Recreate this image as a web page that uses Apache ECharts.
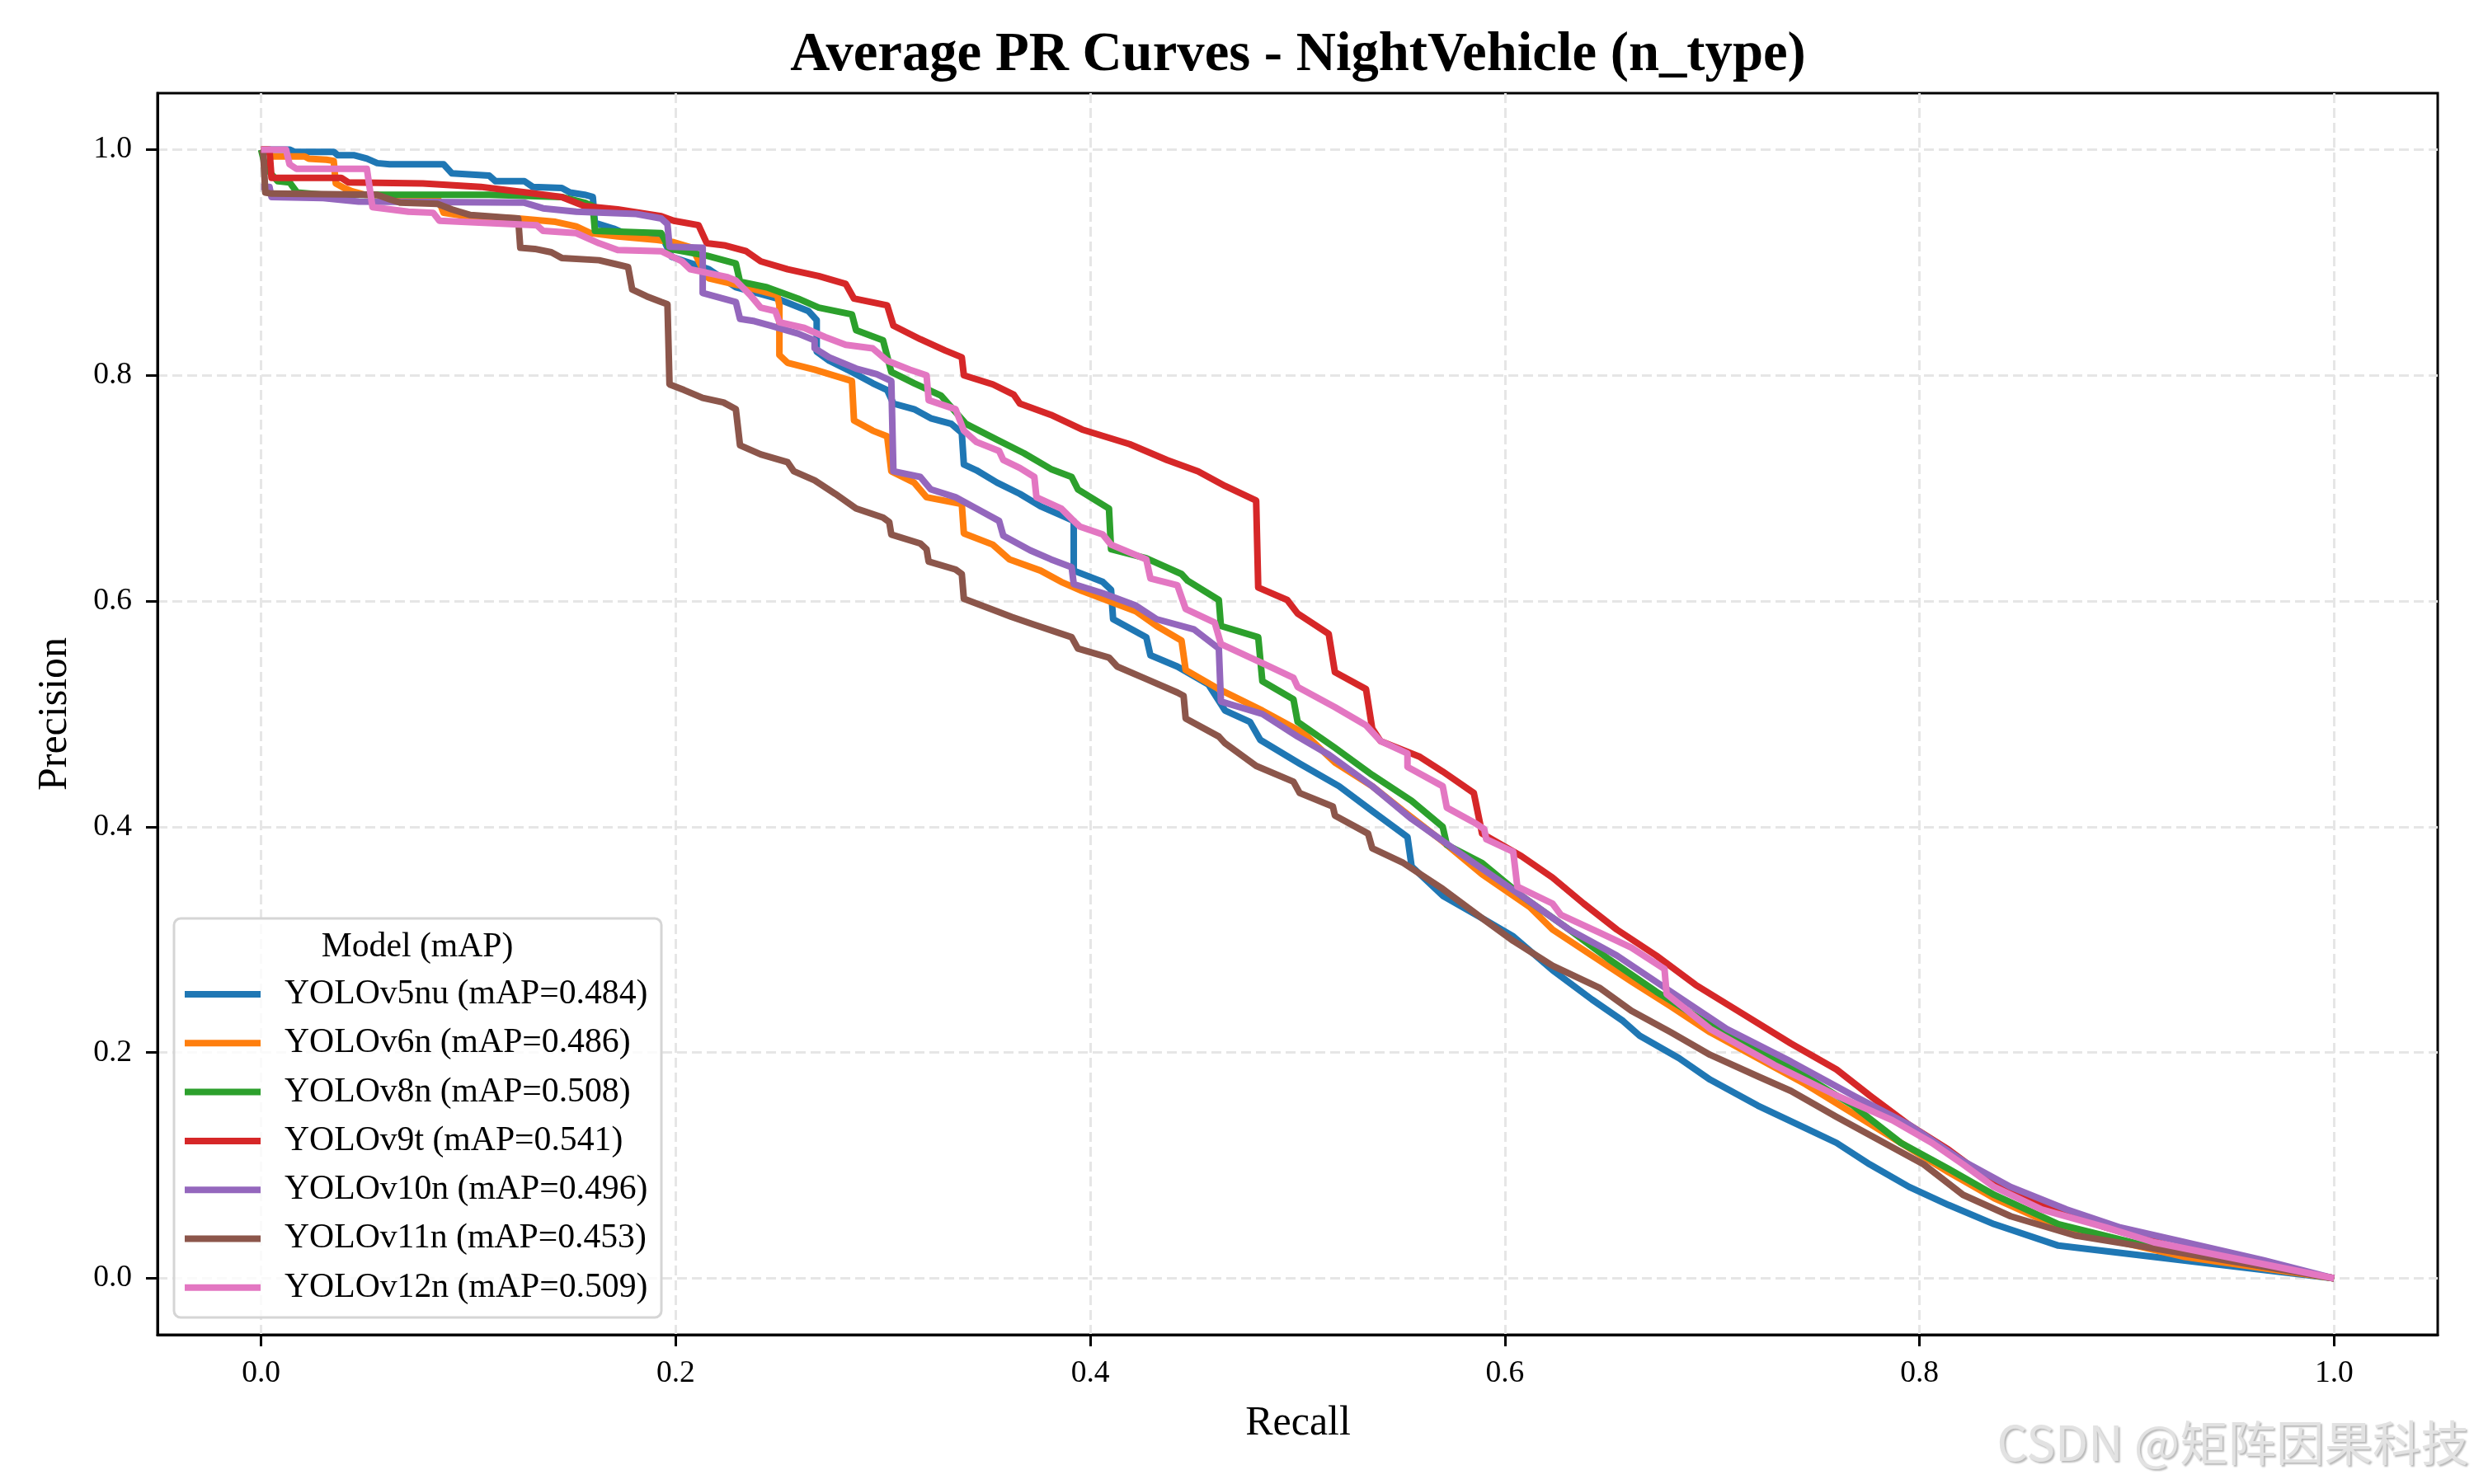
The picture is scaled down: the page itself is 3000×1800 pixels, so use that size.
<!DOCTYPE html>
<html>
<head>
<meta charset="utf-8">
<title>Average PR Curves - NightVehicle (n_type)</title>
<script src="https://cdn.jsdelivr.net/npm/echarts@6/dist/echarts.min.js"></script>
<style>
html, body { margin: 0; padding: 0; background: #fff; }
#main { width: 3000px; height: 1800px; }
</style>
</head>
<body>
<div id="main"></div>
<script>
var ticks = [0.0, 0.2, 0.4, 0.6, 0.8, 1.0];
var models = ['YOLOv5nu', 'YOLOv6n', 'YOLOv8n', 'YOLOv9t', 'YOLOv10n', 'YOLOv11n', 'YOLOv12n'];
var mapValues = [0.484, 0.486, 0.508, 0.541, 0.496, 0.453, 0.509];
var colors = ['#1f77b4', '#ff7f0e', '#2ca02c', '#d62728', '#9467bd', '#8c564b', '#e377c2'];

// [recall, precision]
var yolov5nu = [[0,1.0],[0.0137,1.0],[0.016,0.998],[0.035,0.998],[0.037,0.995],[0.045,0.995],[0.051,0.992],[0.056,0.988],[0.062,0.987],[0.088,0.987],[0.092,0.979],[0.110,0.977],[0.113,0.972],[0.127,0.972],[0.131,0.967],[0.145,0.966],[0.149,0.962],[0.156,0.960],[0.160,0.958],[0.161,0.935],[0.170,0.930],[0.175,0.926],[0.193,0.925],[0.198,0.905],[0.216,0.894],[0.229,0.878],[0.249,0.868],[0.264,0.857],[0.268,0.849],[0.268,0.821],[0.274,0.813],[0.285,0.803],[0.295,0.793],[0.302,0.787],[0.305,0.775],[0.315,0.770],[0.323,0.762],[0.333,0.757],[0.338,0.749],[0.339,0.721],[0.345,0.716],[0.355,0.705],[0.366,0.695],[0.376,0.684],[0.386,0.676],[0.392,0.671],[0.392,0.627],[0.406,0.617],[0.410,0.610],[0.411,0.584],[0.427,0.568],[0.429,0.552],[0.442,0.542],[0.457,0.526],[0.465,0.503],[0.477,0.493],[0.482,0.477],[0.501,0.456],[0.520,0.436],[0.536,0.414],[0.553,0.391],[0.555,0.365],[0.570,0.339],[0.589,0.319],[0.604,0.303],[0.623,0.273],[0.642,0.247],[0.657,0.228],[0.665,0.215],[0.684,0.195],[0.699,0.176],[0.722,0.153],[0.745,0.133],[0.760,0.120],[0.776,0.101],[0.795,0.081],[0.814,0.065],[0.836,0.048],[0.867,0.029],[1.0,0.0]];
var yolov6n = [[0,1.0],[0.003,1.0],[0.005,0.994],[0.021,0.994],[0.023,0.992],[0.0315,0.991],[0.035,0.990],[0.036,0.970],[0.040,0.966],[0.044,0.963],[0.050,0.960],[0.085,0.958],[0.088,0.944],[0.099,0.941],[0.124,0.939],[0.142,0.936],[0.152,0.932],[0.159,0.926],[0.172,0.923],[0.191,0.920],[0.199,0.918],[0.208,0.913],[0.214,0.890],[0.216,0.886],[0.230,0.880],[0.249,0.871],[0.250,0.862],[0.250,0.818],[0.254,0.811],[0.267,0.805],[0.285,0.795],[0.286,0.760],[0.295,0.751],[0.302,0.746],[0.304,0.715],[0.315,0.705],[0.321,0.692],[0.338,0.686],[0.339,0.660],[0.353,0.650],[0.361,0.637],[0.376,0.627],[0.386,0.617],[0.396,0.609],[0.406,0.602],[0.422,0.591],[0.432,0.578],[0.444,0.565],[0.446,0.539],[0.462,0.522],[0.483,0.503],[0.503,0.483],[0.518,0.457],[0.536,0.436],[0.551,0.414],[0.570,0.387],[0.589,0.358],[0.612,0.329],[0.623,0.309],[0.642,0.286],[0.661,0.263],[0.680,0.241],[0.699,0.218],[0.722,0.195],[0.745,0.172],[0.768,0.146],[0.791,0.120],[0.814,0.094],[0.836,0.071],[0.859,0.052],[0.890,0.035],[0.928,0.019],[1.0,0.0]];
var yolov8n = [[0,1.0],[0.002,0.985],[0.005,0.978],[0.008,0.972],[0.0137,0.971],[0.0173,0.962],[0.030,0.960],[0.110,0.960],[0.145,0.958],[0.156,0.953],[0.160,0.950],[0.161,0.928],[0.193,0.926],[0.197,0.912],[0.215,0.906],[0.229,0.899],[0.231,0.883],[0.244,0.878],[0.259,0.868],[0.269,0.860],[0.285,0.854],[0.287,0.840],[0.300,0.831],[0.304,0.803],[0.315,0.793],[0.328,0.782],[0.340,0.757],[0.355,0.743],[0.368,0.731],[0.381,0.717],[0.391,0.710],[0.394,0.699],[0.409,0.682],[0.410,0.646],[0.427,0.638],[0.444,0.624],[0.447,0.618],[0.462,0.601],[0.463,0.578],[0.481,0.568],[0.483,0.529],[0.498,0.513],[0.500,0.493],[0.518,0.470],[0.536,0.446],[0.555,0.423],[0.570,0.400],[0.572,0.384],[0.589,0.368],[0.608,0.339],[0.631,0.309],[0.650,0.283],[0.673,0.254],[0.696,0.228],[0.722,0.202],[0.745,0.179],[0.768,0.153],[0.791,0.120],[0.814,0.097],[0.836,0.074],[0.867,0.048],[0.909,0.029],[1.0,0.0]];
var yolov9t = [[0,1.0],[0.004,1.0],[0.005,0.975],[0.0386,0.975],[0.042,0.971],[0.078,0.970],[0.106,0.967],[0.119,0.964],[0.128,0.962],[0.145,0.958],[0.156,0.950],[0.172,0.947],[0.193,0.941],[0.199,0.937],[0.211,0.933],[0.215,0.917],[0.224,0.915],[0.234,0.910],[0.241,0.901],[0.254,0.894],[0.269,0.888],[0.282,0.881],[0.286,0.868],[0.302,0.862],[0.305,0.844],[0.318,0.832],[0.330,0.822],[0.338,0.816],[0.339,0.800],[0.353,0.792],[0.363,0.783],[0.366,0.775],[0.381,0.765],[0.396,0.752],[0.419,0.739],[0.437,0.725],[0.452,0.715],[0.465,0.702],[0.480,0.689],[0.481,0.612],[0.495,0.601],[0.500,0.589],[0.515,0.571],[0.518,0.537],[0.533,0.522],[0.536,0.487],[0.540,0.476],[0.559,0.462],[0.570,0.449],[0.585,0.430],[0.589,0.394],[0.608,0.374],[0.623,0.355],[0.638,0.332],[0.654,0.309],[0.673,0.286],[0.692,0.260],[0.715,0.234],[0.738,0.208],[0.760,0.185],[0.776,0.162],[0.795,0.136],[0.814,0.114],[0.836,0.084],[0.859,0.065],[0.890,0.045],[0.928,0.025],[1.0,0.0]];
var yolov10n = [[0,0.967],[0.004,0.967],[0.005,0.958],[0.030,0.957],[0.047,0.954],[0.127,0.953],[0.136,0.948],[0.152,0.945],[0.181,0.943],[0.193,0.939],[0.196,0.934],[0.197,0.914],[0.213,0.913],[0.213,0.873],[0.221,0.869],[0.229,0.865],[0.231,0.850],[0.238,0.848],[0.246,0.844],[0.259,0.837],[0.267,0.831],[0.267,0.824],[0.274,0.816],[0.287,0.806],[0.297,0.801],[0.304,0.795],[0.305,0.715],[0.318,0.710],[0.323,0.699],[0.335,0.692],[0.345,0.682],[0.356,0.671],[0.358,0.658],[0.371,0.645],[0.381,0.637],[0.391,0.630],[0.392,0.615],[0.406,0.607],[0.422,0.596],[0.432,0.584],[0.450,0.575],[0.462,0.558],[0.463,0.511],[0.483,0.500],[0.500,0.480],[0.515,0.464],[0.536,0.436],[0.555,0.407],[0.585,0.368],[0.608,0.339],[0.631,0.309],[0.654,0.286],[0.680,0.254],[0.707,0.221],[0.738,0.192],[0.768,0.162],[0.795,0.136],[0.821,0.104],[0.844,0.081],[0.871,0.061],[0.897,0.045],[0.928,0.032],[0.966,0.016],[1.0,0.0]];
var yolov11n = [[0,1.0],[0.001,0.998],[0.002,0.962],[0.005,0.961],[0.056,0.960],[0.062,0.956],[0.067,0.953],[0.085,0.952],[0.092,0.947],[0.101,0.942],[0.124,0.939],[0.125,0.913],[0.132,0.912],[0.140,0.909],[0.145,0.904],[0.163,0.902],[0.170,0.899],[0.177,0.896],[0.179,0.876],[0.186,0.870],[0.193,0.865],[0.196,0.863],[0.197,0.792],[0.204,0.787],[0.213,0.780],[0.223,0.776],[0.229,0.770],[0.231,0.738],[0.241,0.730],[0.254,0.723],[0.257,0.715],[0.267,0.707],[0.277,0.695],[0.287,0.682],[0.300,0.674],[0.303,0.670],[0.304,0.659],[0.318,0.651],[0.321,0.646],[0.322,0.635],[0.335,0.628],[0.338,0.624],[0.339,0.602],[0.355,0.591],[0.362,0.586],[0.373,0.579],[0.391,0.568],[0.394,0.558],[0.409,0.550],[0.413,0.542],[0.427,0.531],[0.442,0.519],[0.445,0.516],[0.446,0.496],[0.462,0.480],[0.465,0.474],[0.480,0.454],[0.498,0.440],[0.501,0.430],[0.517,0.418],[0.518,0.410],[0.534,0.394],[0.536,0.381],[0.551,0.368],[0.570,0.345],[0.589,0.319],[0.604,0.299],[0.623,0.277],[0.646,0.257],[0.661,0.237],[0.680,0.218],[0.699,0.198],[0.722,0.179],[0.738,0.166],[0.760,0.143],[0.783,0.120],[0.802,0.101],[0.821,0.074],[0.844,0.055],[0.875,0.038],[0.905,0.029],[1.0,0.0]];
var yolov12n = [[0,1.0],[0.012,1.0],[0.0137,0.987],[0.017,0.983],[0.051,0.983],[0.0537,0.949],[0.071,0.945],[0.083,0.944],[0.086,0.937],[0.133,0.933],[0.136,0.928],[0.152,0.926],[0.163,0.917],[0.172,0.911],[0.193,0.910],[0.203,0.901],[0.207,0.894],[0.225,0.887],[0.229,0.884],[0.236,0.871],[0.241,0.860],[0.248,0.857],[0.250,0.847],[0.262,0.842],[0.272,0.834],[0.282,0.827],[0.295,0.824],[0.302,0.813],[0.313,0.805],[0.321,0.800],[0.322,0.778],[0.335,0.770],[0.339,0.751],[0.345,0.741],[0.356,0.733],[0.358,0.725],[0.366,0.718],[0.373,0.710],[0.374,0.692],[0.386,0.682],[0.392,0.671],[0.395,0.666],[0.406,0.659],[0.410,0.650],[0.427,0.637],[0.429,0.620],[0.442,0.614],[0.446,0.593],[0.460,0.581],[0.463,0.562],[0.483,0.545],[0.498,0.532],[0.500,0.524],[0.518,0.506],[0.533,0.490],[0.540,0.476],[0.553,0.465],[0.553,0.453],[0.570,0.436],[0.572,0.417],[0.585,0.404],[0.590,0.398],[0.591,0.389],[0.604,0.378],[0.606,0.347],[0.623,0.332],[0.627,0.322],[0.646,0.306],[0.661,0.293],[0.677,0.274],[0.678,0.252],[0.699,0.221],[0.730,0.189],[0.760,0.162],[0.787,0.140],[0.806,0.120],[0.821,0.101],[0.836,0.081],[0.859,0.061],[0.890,0.045],[0.913,0.032],[1.0,0.0]];

var curves = [yolov5nu, yolov6n, yolov8n, yolov9t, yolov10n, yolov11n, yolov12n];

var serif = '"Liberation Serif", "Times New Roman", serif';

var series = [];
var legendNames = [];
for (var i = 0; i < models.length; i++) {
    var name = models[i] + ' (mAP=' + mapValues[i].toFixed(3) + ')';
    legendNames.push(name);
    series.push({
        name: name,
        type: 'line',
        data: curves[i],
        symbol: 'none',
        showSymbol: false,
        color: colors[i],
        lineStyle: { width: 8, color: colors[i], join: 'round', cap: 'butt' }
    });
}

function axis(margin) {
    return {
        type: 'value',
        min: -0.05,
        max: 1.05,
        axisLine: { show: true, onZero: false, lineStyle: { color: '#000', width: 3 } },
        axisTick: { show: true, length: 14, customValues: ticks, lineStyle: { color: '#000', width: 3 } },
        axisLabel: {
            customValues: ticks,
            margin: margin,
            color: '#000',
            fontSize: 37.5,
            fontFamily: serif,
            formatter: function (v) { return v.toFixed(1); }
        },
        splitLine: { show: true, lineStyle: { color: '#e6e6e6', width: 3, type: [12, 6] } }
    };
}

var chart = echarts.init(document.getElementById('main'));
var option = {
    animation: false,
    backgroundColor: '#fff',
    grid: { left: 191, right: 44, top: 113, bottom: 181, show: true, borderColor: '#000', borderWidth: 3, backgroundColor: 'transparent' },
    xAxis: axis(28),
    yAxis: axis(31),
    legend: {
        data: legendNames,
        orient: 'vertical',
        left: 224,
        top: 1185,
        padding: 0,
        itemGap: 17.3,
        itemWidth: 92,
        itemHeight: 8,
        icon: 'rect',
        z: 10,
        textStyle: { fontSize: 41.7, fontFamily: serif, color: '#000', lineHeight: 42, padding: [0, 0, 0, 24] }
    },
    graphic: [
        {
            type: 'rect', z: 3,
            shape: { x: 211, y: 1114, width: 591, height: 484, r: 8 },
            style: { fill: 'rgba(255,255,255,0.8)', stroke: '#d5d5d5', lineWidth: 3 }
        },
        {
            type: 'text', z: 11, x: 506, y: 1149,
            style: { text: 'Model (mAP)', fontSize: 41.7, fontFamily: serif, fill: '#000', align: 'center', verticalAlign: 'middle' }
        },
        {
            type: 'text', x: 1574, y: 68,
            style: { text: 'Average PR Curves - NightVehicle (n_type)', fontSize: 66.7, fontWeight: 'bold', fontFamily: serif, fill: '#000', align: 'center', verticalAlign: 'middle' }
        },
        {
            type: 'text', x: 1574, y: 1727,
            style: { text: 'Recall', fontSize: 50, fontFamily: serif, fill: '#000', align: 'center', verticalAlign: 'middle' }
        },
        {
            type: 'text', x: 67, y: 866, rotation: Math.PI / 2,
            style: { text: 'Precision', fontSize: 50, fontFamily: serif, fill: '#000', align: 'center', verticalAlign: 'middle' }
        },
        {
            type: 'text', x: 2994, y: 1750,
            style: {
                text: 'CSDN @矩阵因果科技', fontSize: 58.5, fontFamily: '"Noto Sans CJK SC", sans-serif',
                fill: '#e2e2e2', align: 'right', verticalAlign: 'middle',
                textShadowColor: 'rgba(0,0,0,0.28)', textShadowOffsetX: 2, textShadowOffsetY: 2, textShadowBlur: 2
            }
        }
    ],
    series: series
};
chart.setOption(option);
</script>
</body>
</html>
